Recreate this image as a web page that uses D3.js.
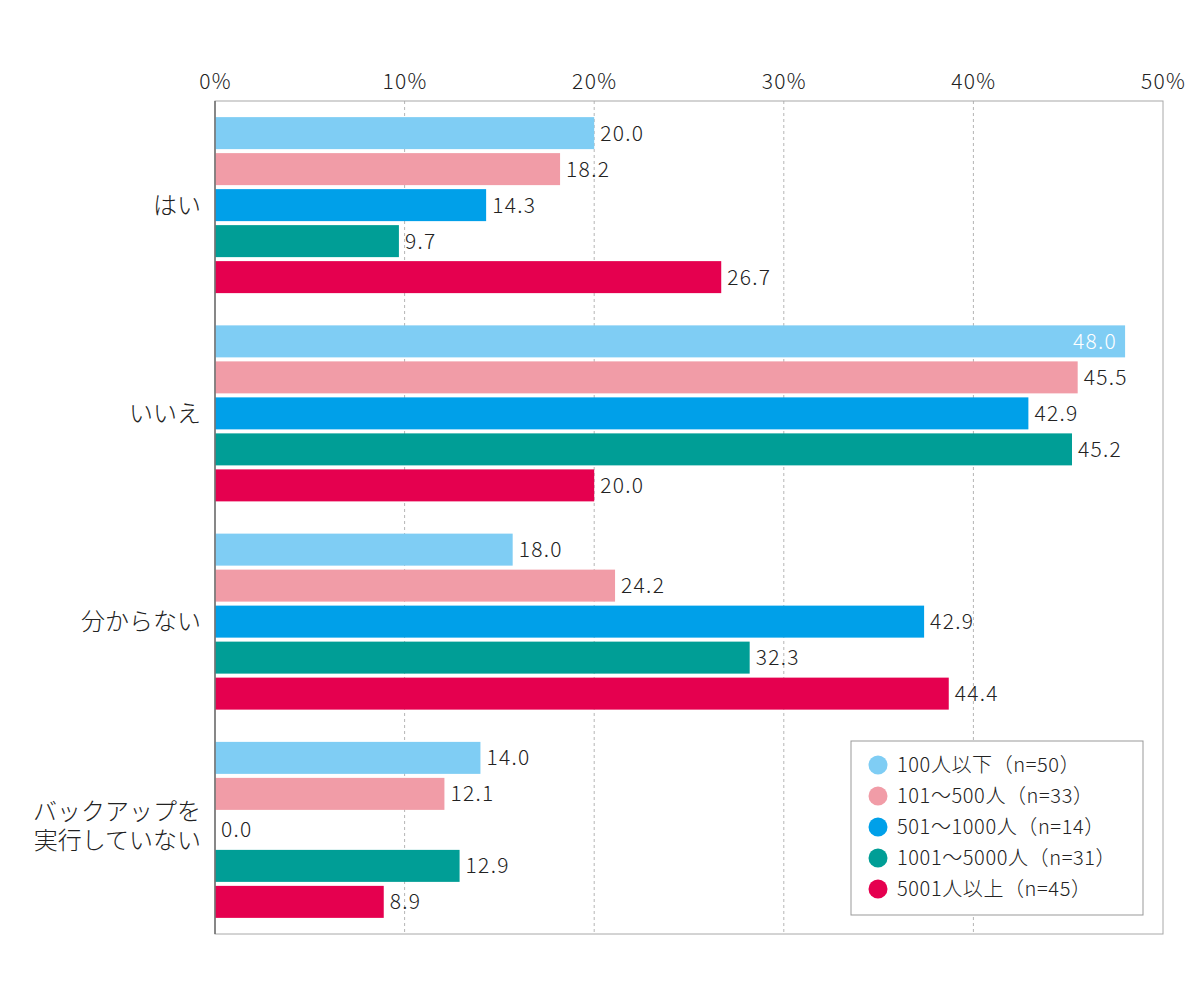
<!DOCTYPE html>
<html>
<head>
<meta charset="utf-8">
<script src="https://cdn.jsdelivr.net/npm/d3@7"></script>
<style>
  body { margin: 0; background: #fff; }
  svg { display: block; }
  text { font-family: "Noto Sans CJK JP", "Noto Sans", sans-serif; font-weight: 300; fill: #222; }
  .num { letter-spacing: 1.3px; }
</style>
</head>
<body>
<div id="chart"></div>
<script>
var categories = [['はい'], ['いいえ'], ['分からない'], ['バックアップを', '実行していない']];
var seriesNames = ['100人以下（n=50）', '101～500人（n=33）', '501～1000人（n=14）', '1001～5000人（n=31）', '5001人以上（n=45）'];
var seriesColors = ['#7fcdf4', '#f19ca7', '#00a0e9', '#009e96', '#e5004f'];
// labelled values per series, in category order
var s100 = [20.0, 48.0, 18.0, 14.0];
var s500 = [18.2, 45.5, 24.2, 12.1];
var s1000 = [14.3, 42.9, 42.9, 0.0];
var s5000 = [9.7, 45.2, 32.3, 12.9];
var s5001 = [26.7, 20.0, 44.4, 8.9];
// in the source image the 分からない bars are drawn shorter than their labels;
// these are the lengths (by series)
var drawnUnknown = [15.7, 21.1, 37.4, 28.2, 38.7];
var tickValues = [0, 10, 20, 30, 40, 50];

(function(){
    var seriesValues = [s100, s500, s1000, s5000, s5001];

    var width = 1200, height = 1000,
        plotLeft = 215, plotRight = 1163, plotTop = 101, plotBottom = 934;

    var svg = d3.select('#chart').append('svg')
        .attr('width', width).attr('height', height);

    var x = d3.scaleLinear().domain([0, 50]).range([plotLeft, plotRight]);
    var catKeys = categories.map(function(d, i){ return i; });
    var y0 = d3.scaleBand().domain(catKeys).range([plotTop, plotBottom]);
    var groupH = 176;
    var y1 = d3.scaleBand().domain(d3.range(seriesNames.length)).range([0, groupH])
        .paddingInner(4 / 36).paddingOuter(0);

    // dashed grid lines
    svg.append('g').selectAll('line')
        .data(tickValues.filter(function(d){ return d > 0 && d < 50; }))
        .enter().append('line')
        .attr('x1', function(d){ return x(d); }).attr('x2', function(d){ return x(d); })
        .attr('y1', plotTop).attr('y2', plotBottom)
        .attr('stroke', '#b5b5b5').attr('stroke-width', 1)
        .attr('stroke-dasharray', '3,3');

    // frame
    svg.append('rect')
        .attr('x', plotLeft).attr('y', plotTop)
        .attr('width', plotRight - plotLeft).attr('height', plotBottom - plotTop)
        .attr('fill', 'none').attr('stroke', '#a8a8a8').attr('stroke-width', 1);

    // top tick labels
    var xAxis = d3.axisTop(x).tickValues(tickValues)
        .tickFormat(function(d){ return d + '%'; }).tickSize(0).tickPadding(0);
    var axisG = svg.append('g').attr('transform', 'translate(0,89)').call(xAxis);
    axisG.select('.domain').remove();
    axisG.attr('font-family', null).attr('font-size', null);
    axisG.selectAll('text')
        .attr('class', 'num')
        .attr('dy', 0)
        .style('font-size', '21px')
        .attr('fill', '#222');

    // bars
    var groups = svg.append('g').selectAll('g')
        .data(catKeys).enter().append('g')
        .attr('transform', function(c){
            return 'translate(0,' + (y0(c) + (y0.bandwidth() - groupH) / 2) + ')';
        });

    groups.each(function(c){
        var g = d3.select(this);
        var rows = seriesValues.map(function(vals, s){
            return { s: s, v: vals[c], len: c === 2 ? drawnUnknown[s] : vals[c] };
        });
        g.selectAll('rect').data(rows).enter().append('rect')
            .attr('x', x(0) + 0.5)
            .attr('y', function(d){ return y1(d.s); })
            .attr('width', function(d){ return Math.max(0, x(d.len) - x(0) - 0.5); })
            .attr('height', y1.bandwidth())
            .attr('fill', function(d){ return seriesColors[d.s]; });
        g.selectAll('text').data(rows).enter().append('text')
            .attr('class', 'num')
            .attr('x', function(d){ return d.len >= 47 ? x(d.len) - 8 : x(d.len) + 6; })
            .attr('y', function(d){ return y1(d.s) + y1.bandwidth() / 2; })
            .attr('dy', '0.36em')
            .attr('text-anchor', function(d){ return d.len >= 47 ? 'end' : 'start'; })
            .style('font-size', '21px')
            .style('fill', function(d){ return d.len >= 47 ? '#fff' : '#222'; })
            .text(function(d){ return d.v.toFixed(1); });
    });

    // left axis line
    svg.append('line')
        .attr('x1', plotLeft).attr('x2', plotLeft).attr('y1', plotTop).attr('y2', plotBottom)
        .attr('stroke', '#555').attr('stroke-width', 1.2);

    // category labels
    svg.append('g').selectAll('text')
        .data(catKeys).enter().append('text')
        .attr('x', 201)
        .attr('y', function(c){ return y0(c) + y0.bandwidth() / 2 - (categories[c].length - 1) * 4; })
        .attr('text-anchor', 'end')
        .style('font-size', '24px')
        .each(function(c){
            var lines = categories[c];
            var t = d3.select(this);
            lines.forEach(function(line, i){
                t.append('tspan')
                    .attr('x', 201)
                    .attr('dy', i === 0 ? (0.36 - (lines.length - 1) * 0.6) + 'em' : '1.2em')
                    .text(line);
            });
        });

    // legend
    var legend = svg.append('g').attr('transform', 'translate(851,741)');
    legend.append('rect')
        .attr('width', 292).attr('height', 174)
        .attr('fill', '#fff').attr('stroke', '#999').attr('stroke-width', 1);
    var items = legend.selectAll('g').data(seriesNames).enter().append('g')
        .attr('transform', function(d, i){ return 'translate(0,' + (24 + i * 31) + ')'; });
    items.append('circle')
        .attr('cx', 27).attr('cy', 0).attr('r', 9.5)
        .attr('fill', function(d, i){ return seriesColors[i]; });
    items.append('text')
        .attr('x', 46).attr('y', 0).attr('dy', '0.36em')
        .style('font-size', '20px')
        .style('letter-spacing', '0.6px')
        .text(function(d){ return d; });
})();
</script>
</body>
</html>
